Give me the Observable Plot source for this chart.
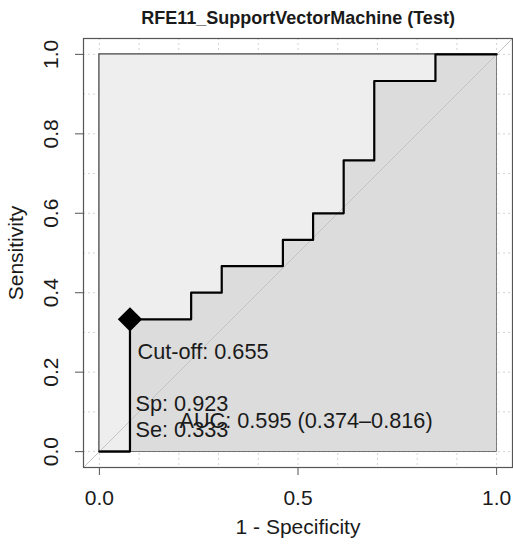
<!DOCTYPE html>
<html>
<head>
<meta charset="utf-8">
<script src="https://cdn.jsdelivr.net/npm/d3@7"></script>
<script src="https://cdn.jsdelivr.net/npm/@observablehq/plot@0.6"></script>
<style>
  body { margin: 0; background: #fff; }
  svg { font-family: "Liberation Sans", Arial, sans-serif; }
</style>
</head>
<body>
<div id="chart"></div>
<script>
const title = "RFE11_SupportVectorMachine (Test)";
const xLabel = "1 - Specificity";
const yLabel = "Sensitivity";

// ROC curve corners (1 - specificity, sensitivity)
const rocFpr = [0, 0.077, 0.077, 0.231, 0.231, 0.308, 0.308, 0.462, 0.462, 0.538, 0.538, 0.615, 0.615, 0.692, 0.692, 0.846, 0.846, 1];
const rocTpr = [0, 0, 0.333, 0.333, 0.4, 0.4, 0.467, 0.467, 0.533, 0.533, 0.6, 0.6, 0.733, 0.733, 0.933, 0.933, 1, 1];

// best threshold point
const cutFpr = [0.077];
const cutTpr = [0.333];

// annotations (overlap of AUC with Sp/Se is as in the reference)
const annoText = ["Cut-off: 0.655", "Sp: 0.923", "Se: 0.333", "AUC: 0.595 (0.374\u20130.816)"];
const annoX = [0.096, 0.091, 0.091, 0.2015];
const annoY = [0.251, 0.120, 0.054, 0.077];

// axes
const domain = [-0.04, 1.04];
const xTicks = [0, 0.5, 1];
const yTicks = [0, 0.2, 0.4, 0.6, 0.8, 1];
const gridTicks = [0, 0.1, 0.2, 0.3, 0.4, 0.5, 0.6, 0.7, 0.8, 0.9, 1];
const maxPoly = [{x1: 0, x2: 1, y1: 0, y2: 1}];

const roc = rocFpr.map((x, i) => ({x, y: rocTpr[i]}));
const cut = cutFpr.map((x, i) => ({x, y: cutTpr[i]}));
const anno = annoText.map((t, i) => ({t, x: annoX[i], y: annoY[i]}));
const diag = domain.map(d => ({x: d, y: d}));
const fmt = d3.format(".1f");

const chart = Plot.plot({
  width: 513,
  height: 545,
  marginLeft: 83,
  marginRight: 1,
  marginTop: 38,
  marginBottom: 78,
  x: {domain, label: null},
  y: {domain, label: null},
  style: {fontFamily: "Liberation Sans, Arial, sans-serif", color: "#1a1a1a", background: "white"},
  marks: [
    Plot.ruleX(gridTicks, {x: d => d, stroke: "#d3d3d3", strokeDasharray: "2,3", strokeWidth: 1}),
    Plot.ruleY(gridTicks, {y: d => d, stroke: "#d3d3d3", strokeDasharray: "2,3", strokeWidth: 1}),
    Plot.rect(maxPoly, {x1: "x1", x2: "x2", y1: "y1", y2: "y2", fill: "#eeeeee", stroke: "#4a4a4a", strokeWidth: 1.3}),
    Plot.areaY(roc, {x: "x", y: "y", y1: 0, fill: "#dcdcdc"}),
    Plot.line(diag, {x: "x", y: "y", stroke: "#c4c4c4", strokeWidth: 1}),
    Plot.line(roc, {x: "x", y: "y", stroke: "black", strokeWidth: 2.2, curve: "linear"}),
    Plot.dot(cut, {x: "x", y: "y", symbol: "diamond2", r: 10, fill: "black", stroke: "black", strokeWidth: 1.5}),
    Plot.text(anno, {x: "x", y: "y", text: "t", textAnchor: "start", lineAnchor: "middle", fontSize: 21.7, fill: "#1a1a1a"}),
    Plot.frame({stroke: "#555", strokeWidth: 1.2}),
    Plot.axisX({ticks: xTicks, tickSize: 8, tickPadding: 15, tickFormat: fmt, fontSize: 21, stroke: "#555", fill: "#1a1a1a", label: null}),
    Plot.axisY({ticks: yTicks, tickSize: 8, tickFormat: () => "", stroke: "#555", label: null}),
    Plot.text(yTicks, {y: d => d, text: d => fmt(d), frameAnchor: "left", dx: -32.5, rotate: -90, textAnchor: "middle", lineAnchor: "middle", fontSize: 21, fill: "#1a1a1a"}),
    Plot.text([xLabel], {text: d => d, frameAnchor: "bottom", dy: 60, lineAnchor: "middle", fontSize: 21, fill: "#1a1a1a"}),
    Plot.text([yLabel], {text: d => d, frameAnchor: "left", dx: -67, rotate: -90, textAnchor: "middle", lineAnchor: "middle", fontSize: 21, fill: "#1a1a1a"}),
    Plot.text([title], {text: d => d, frameAnchor: "top", dy: -20, lineAnchor: "middle", fontSize: 18, fontWeight: "bold", fill: "#1a1a1a"})
  ]
});
document.getElementById("chart").appendChild(chart);
</script>
</body>
</html>
